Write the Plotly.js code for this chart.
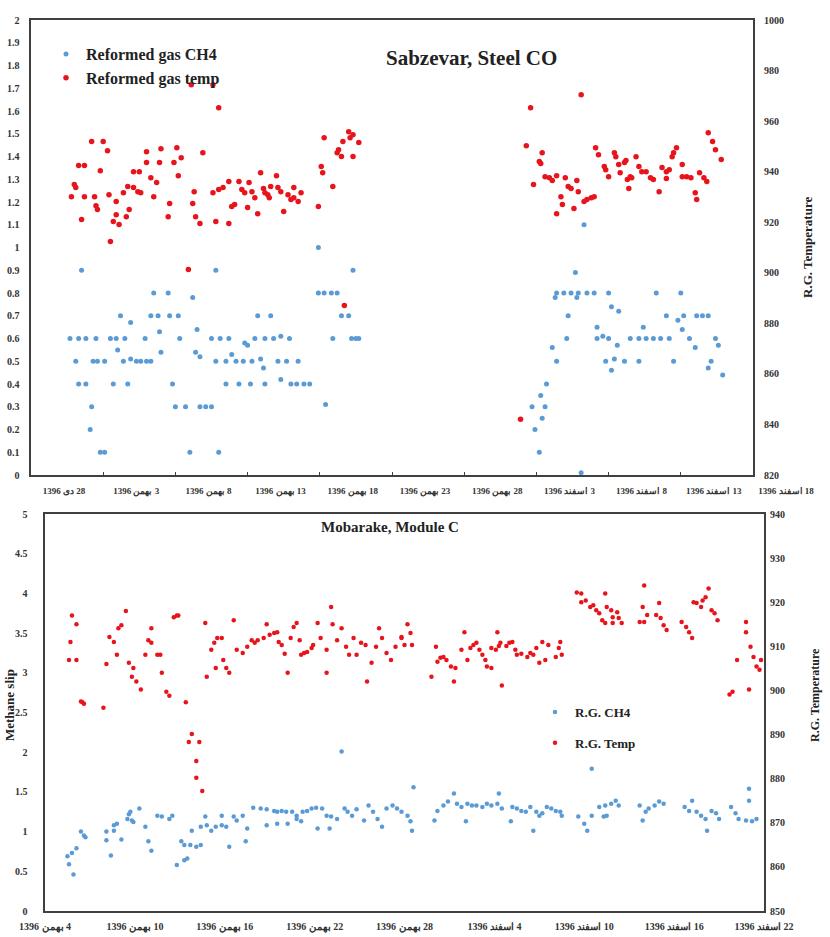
<!DOCTYPE html>
<html><head><meta charset="utf-8">
<script src="https://cdn.plot.ly/plotly-3.0.1.min.js"></script>
<style>html,body{margin:0;padding:0;background:#fff;}#chart{width:830px;height:937px;}</style>
</head><body><div id="chart"></div>
<script>
// ---------- DATA ----------
// Top chart: x = days since 28 Dey 1396
const topTickDays = [0,5,10,15,20,25,30,35,40,45,50];
const topTickLabels = ["28 دی 1396","3 بهمن 1396","8 بهمن 1396","13 بهمن 1396","18 بهمن 1396","23 بهمن 1396","28 بهمن 1396","3 اسفند 1396","8 اسفند 1396","13 اسفند 1396","18 اسفند 1396"];
// [day, CH4]
const topCh4 = [
[3.5,0.90],[2.7,0.60],[3.3,0.60],[3.8,0.60],[4.5,0.60],[5.5,0.60],[5.9,0.60],[6.5,0.60],[7.9,0.60],[10.3,0.60],[12.5,0.60],[13.1,0.60],[13.7,0.60],[14.8,0.58],[15.0,0.57],[15.5,0.60],[16.2,0.60],[16.8,0.60],[17.3,0.61],[17.9,0.60],[20.9,0.60],[22.2,0.60],[22.5,0.60],[22.7,0.60],
[3.1,0.50],[4.3,0.50],[4.6,0.50],[5.1,0.50],[6.4,0.50],[6.9,0.51],[7.3,0.50],[7.6,0.50],[8.0,0.50],[8.3,0.50],[12.8,0.50],[13.5,0.50],[14.2,0.50],[14.7,0.50],[15.3,0.50],[15.9,0.51],[17.1,0.50],[17.7,0.50],[18.5,0.50],
[3.3,0.40],[3.8,0.40],[5.7,0.40],[6.7,0.40],[9.8,0.40],[13.5,0.40],[14.4,0.40],[15.2,0.40],[16.2,0.40],[17.3,0.42],[18.0,0.40],[18.4,0.40],[18.9,0.40],[19.3,0.40],
[4.2,0.30],[10.0,0.30],[10.7,0.30],[11.7,0.30],[12.1,0.30],[12.5,0.30],[20.4,0.31],[4.1,0.20],
[4.8,0.10],[5.1,0.10],[11.0,0.10],[13.0,0.10],
[8.5,0.80],[9.5,0.80],[19.9,0.80],[20.3,0.80],[20.8,0.80],[21.2,0.80],
[6.2,0.70],[8.3,0.70],[8.8,0.70],[9.6,0.70],[10.2,0.70],[15.7,0.70],[16.6,0.70],[21.5,0.70],[22.0,0.70],
[6.9,0.67],[8.9,0.63],[6.0,0.55],[9.0,0.54],[11.4,0.54],[11.7,0.52],[11.5,0.64],[11.2,0.78],[12.8,0.90],[22.3,0.90],[19.9,1.00],[16.1,0.47],[13.9,0.53],
[37.7,0.89],[36.4,0.80],[36.9,0.80],[37.4,0.80],[37.9,0.80],[38.5,0.80],[39.0,0.80],[40.0,0.80],[43.3,0.80],[45.0,0.80],
[36.3,0.78],[37.8,0.78],[37.2,0.70],[40.2,0.74],[40.7,0.72],
[44.0,0.70],[44.8,0.68],[45.2,0.70],[46.1,0.70],[46.5,0.70],[46.9,0.70],
[39.2,0.65],[42.4,0.65],[45.1,0.64],
[37.1,0.60],[39.2,0.60],[39.6,0.61],[40.0,0.60],[41.5,0.60],[42.1,0.60],[42.6,0.60],[43.1,0.60],[43.6,0.60],[44.2,0.60],[45.6,0.60],[47.4,0.60],
[40.6,0.57],[46.0,0.56],[47.6,0.57],[36.1,0.56],
[36.4,0.50],[39.8,0.50],[40.4,0.51],[41.1,0.50],[42.1,0.50],[44.5,0.50],[47.1,0.50],
[40.2,0.46],[46.9,0.47],[47.9,0.44],
[35.7,0.40],[35.3,0.35],[34.7,0.30],[35.6,0.30],[35.4,0.25],[34.9,0.20],[35.2,0.10],[38.1,0.01],[38.3,1.10]
];
// [day, temperature]
const topTemp = [
[11.1,974.4],[12.6,974.4],[13.0,965.3],
[4.2,951.9],[5.0,951.9],[5.3,948.3],[3.3,942.4],[3.7,942.4],[4.8,940.4],[3.0,934.9],[3.1,933.7],[2.8,930.1],[3.7,930.1],[4.4,930.1],[5.4,930.9],[5.9,928.2],[4.5,926.5],[4.6,925.0],[3.5,921.1],[5.7,920.3],[6.1,919.1],[5.9,923.0],[6.6,922.2],[5.5,912.4],[6.8,925.0],[6.4,931.7],[6.7,934.1],[7.1,933.7],[7.4,932.1],[7.6,931.7],[7.1,940.0],[7.5,940.0],[8.0,943.6],[8.0,947.9],[8.3,937.6],[8.7,935.7],[9.0,949.1],[8.9,943.6],[8.5,930.1],[10.1,949.5],[9.9,943.6],[10.4,945.5],[10.2,938.4],[9.6,927.4],[9.5,922.2],[11.3,932.1],[11.2,927.4],[11.4,922.2],[11.7,919.5],[11.9,947.5],[10.9,901.3],[12.8,920.3],[13.7,919.5],[12.6,931.7],[13.0,932.9],[13.3,933.7],[13.7,936.1],[13.9,926.2],[14.1,927.0],[14.4,936.1],[14.6,932.9],[14.8,931.7],[15.1,935.7],[15.3,932.1],[15.5,929.7],[15.0,925.8],[15.7,923.4],[15.9,939.6],[16.1,933.3],[16.2,931.7],[16.4,930.9],[16.5,929.7],[16.6,934.1],[17.0,938.4],[17.1,933.7],[17.3,932.1],[17.5,924.2],[17.8,930.9],[18.0,929.0],[18.2,929.7],[18.5,928.2],[18.7,931.7],[18.2,933.7],[19.9,926.2],[20.1,942.0],[20.2,939.6],[20.3,953.4],[20.9,934.1],[21.2,947.5],[21.3,948.7],[21.5,946.0],[21.6,951.9],[22.0,955.8],[22.1,953.4],[22.3,954.6],[22.3,946.0],[22.7,951.5],[21.7,887.1],
[33.9,842.1],[34.6,965.3],[38.1,970.4],[34.3,950.3],[35.4,947.5],[35.2,944.0],[35.3,943.2],[34.8,934.9],[35.6,938.0],[35.9,937.6],[36.1,936.5],[36.4,938.4],[37.0,937.6],[37.2,934.1],[37.4,933.3],[37.8,936.5],[37.9,932.1],[36.7,930.1],[36.8,927.0],[36.4,923.4],[37.6,925.4],[38.3,928.2],[38.5,929.0],[38.8,929.7],[39.0,930.1],[39.1,949.5],[39.3,946.7],[39.7,942.0],[39.8,940.8],[40.0,938.0],[40.4,947.5],[40.5,945.9],[40.7,942.8],[40.8,939.6],[41.1,943.6],[41.2,944.4],[41.3,936.9],[41.5,938.0],[41.6,937.6],[41.4,933.3],[41.9,945.9],[42.1,942.0],[42.3,940.0],[42.6,940.0],[42.9,937.6],[43.1,936.9],[43.5,932.1],[43.7,941.6],[44.0,940.0],[44.2,940.8],[44.0,937.3],[44.4,945.9],[44.5,947.5],[44.7,949.5],[45.1,942.8],[45.1,938.0],[45.4,938.0],[45.7,937.6],[46.0,931.7],[46.1,929.0],[46.3,939.6],[46.6,937.6],[46.8,936.1],[46.9,955.4],[47.2,951.9],[47.4,948.7],[47.8,944.8]
];

// Bottom chart: x = days since 4 Bahman 1396
const botTickDays = [0,6,12,18,24,30,36,42,48];
const botTickLabels = ["4 بهمن 1396","10 بهمن 1396","16 بهمن 1396","22 بهمن 1396","28 بهمن 1396","4 اسفند 1396","10 اسفند 1396","16 اسفند 1396","22 اسفند 1396"];
// [day, CH4 (methane slip)]
const botCh4 = [
[1.5,0.69],[1.6,0.59],[1.8,0.73],[2.1,0.79],[1.9,0.46],[2.4,1.00],[2.6,0.95],[2.7,0.93],
[4.1,1.00],[4.1,0.89],[4.4,0.70],[4.6,1.01],[4.6,1.08],[4.8,1.10],[5.1,0.90],
[5.5,1.16],[5.6,1.22],[5.7,1.25],[5.8,1.14],[5.9,1.12],[6.3,1.29],
[6.7,1.06],[6.9,0.88],[7.1,0.76],
[7.5,1.20],[7.8,1.19],[8.3,1.16],[8.5,1.20],
[9.1,0.88],[9.3,0.83],[8.8,0.58],[9.3,0.64],[9.5,0.66],
[9.7,0.83],[10.1,0.81],[10.4,0.83],
[9.8,1.01],[10.4,1.06],[10.8,1.08],[11.1,1.01],[11.4,1.06],[11.8,1.08],[12.1,1.06],
[10.7,1.19],[11.8,1.20],[12.6,1.19],[12.8,1.14],
[12.3,0.81],[13.4,0.88],[13.5,1.04],[13.2,1.20],
[13.9,1.30],[14.4,1.29],[14.8,1.28],[15.3,1.26],[15.5,1.25],[15.8,1.26],[16.1,1.25],[16.5,1.25],[16.8,1.20],[17.2,1.25],[17.5,1.26],[17.8,1.29],[18.1,1.30],
[14.8,1.08],[15.5,1.10],[16.2,1.10],[16.8,1.16],[17.1,1.13],
[18.2,1.04],[19.0,1.04],
[18.5,1.29],[18.8,1.20],[19.1,1.19],[19.5,1.16],[20.0,1.29],[20.2,1.25],[20.5,1.20],[20.8,1.28],[21.3,1.14],[21.6,1.33],[21.9,1.25],[22.2,1.16],[22.5,1.06],[22.8,1.29],[23.2,1.33],[23.5,1.29],[23.8,1.25],[24.2,1.20],[24.4,1.13],[24.5,1.01],
[19.8,2.01],[24.6,1.56],
[26.0,1.14],[26.2,1.26],[26.6,1.33],[26.9,1.38],[27.3,1.48],[27.5,1.35],[27.8,1.31],[28.1,1.13],[28.2,1.35],[28.5,1.33],[28.8,1.33],[29.2,1.31],[29.5,1.35],[29.8,1.33],[30.2,1.35],[30.3,1.48],[30.5,1.29],[31.1,1.13],[31.2,1.31],[31.5,1.29],[31.8,1.26],[32.1,1.25],[32.4,1.31],[32.6,1.01],[32.8,1.25],[33.0,1.20],[33.2,1.23],[33.5,1.31],[33.8,1.29],[34.1,1.26],[34.4,1.25],[34.5,1.20],
[35.6,1.19],[36.0,1.10],[36.2,1.01],[36.5,1.20],[37.0,1.31],[37.4,1.33],[37.8,1.35],[38.1,1.39],[38.3,1.33],[37.5,1.20],[37.3,1.19],[36.5,1.79],
[39.7,1.33],[39.9,1.14],[40.1,1.25],[40.3,1.29],[40.7,1.33],[41.0,1.38],[41.3,1.35],
[42.7,1.31],[43.0,1.26],[43.2,1.39],[43.5,1.25],[43.8,1.20],[44.1,1.16],[44.2,1.01],[44.5,1.26],[44.8,1.23],[45.0,1.16],
[45.8,1.31],[46.1,1.23],[46.3,1.16],[46.8,1.14],[47.0,1.54],[47.0,1.39],[47.2,1.13],[47.5,1.16]
];
// [day, temperature]
const botTemp = [
[1.8,917.0],[2.1,915.0],[1.7,911.0],[1.6,906.9],[2.1,906.9],[2.4,897.5],[2.5,897.3],[2.6,897.0],[3.9,896.1],
[5.4,918.0],[5.1,914.8],[4.9,914.1],[4.3,912.1],[4.6,911.0],[4.8,908.1],[4.1,906.0],
[5.6,906.3],[5.9,905.1],[5.8,903.1],[6.1,902.0],[6.4,900.2],
[7.1,914.1],[6.9,911.4],[7.1,910.8],[6.7,908.1],[7.5,908.1],[7.7,908.1],[7.8,904.0],[8.1,899.7],[8.3,898.8],
[8.6,916.6],[8.8,917.0],[8.9,917.0],[9.4,897.3],
[9.8,890.1],[9.6,888.3],[10.3,888.3],[10.1,884.0],[10.1,880.2],[10.5,877.2],
[10.7,915.3],[11.1,909.2],[11.3,910.8],[11.5,911.9],[11.8,911.9],[10.8,903.1],[11.4,905.1],[11.9,906.9],[12.1,905.1],[12.3,904.0],
[12.6,915.9],[12.8,909.2],[13.2,908.5],[13.5,909.9],[13.8,911.4],[14.0,910.8],[14.2,911.4],[14.6,911.9],[15.0,912.6],[15.3,913.0],[15.5,913.2],[15.6,911.0],[15.8,910.3],
[14.8,915.0],[16.0,908.3],[16.2,904.0],
[16.4,911.9],[16.6,914.4],[16.8,915.3],[17.0,911.4],[17.1,908.1],[17.3,908.5],[17.5,908.7],[17.8,909.6],[17.9,910.3],
[18.2,915.3],[18.4,911.9],[18.8,909.2],[18.8,904.0],
[19.1,918.9],[19.2,915.0],[19.5,911.4],[19.8,914.1],[20.1,909.9],[20.3,908.1],[20.6,911.9],[20.8,908.1],[21.1,910.8],[21.4,910.3],[21.5,902.0],[21.8,906.3],[22.1,909.9],
[22.3,914.1],[22.5,911.9],[22.8,908.5],[23.1,906.9],[23.4,909.9],[23.8,911.9],[24.2,915.0],[24.4,913.0],[24.5,910.3],[24.0,910.3],[23.8,912.1],
[25.8,903.1],[26.1,909.9],[26.2,906.5],[26.4,907.4],[26.6,907.6],[26.8,906.9],[27.1,905.4],[27.3,902.0],[27.4,905.1],[27.8,909.2],[28.0,913.2],[28.2,906.9],[28.4,909.6],[28.6,910.3],[28.8,910.8],[29.0,909.2],[29.2,908.1],[29.4,906.9],[29.5,905.4],[29.8,905.1],[29.8,909.6],[30.1,909.2],[30.2,913.2],[30.3,910.1],[30.4,910.8],[30.5,901.1],[30.8,910.1],[31.0,910.8],[31.2,911.0],[31.4,909.2],[31.5,908.1],[31.8,908.3],[32.2,907.6],[32.4,908.5],[32.6,908.1],[32.8,909.6],[33.0,906.3],[33.2,911.0],[33.4,906.9],[33.6,910.3],[34.1,907.6],[34.3,909.6],[34.4,911.0],[34.5,908.1],
[35.5,922.2],[35.8,922.0],[35.8,920.0],[36.1,920.4],[36.4,918.9],[36.6,919.3],[36.8,918.2],[37.0,917.5],[37.4,922.0],[37.5,918.9],[37.8,918.2],[37.9,916.6],[38.2,917.7],[38.3,916.4],[37.2,915.9],[37.4,915.3],[37.9,915.3],[38.5,915.3],
[40.0,923.8],[39.9,918.9],[40.0,915.5],[39.7,915.5],[40.2,917.1],
[41.0,919.8],[40.8,917.1],[41.1,916.4],[41.3,914.8],[41.5,913.7],
[42.5,915.5],[42.8,914.4],[43.0,913.2],[43.2,911.9],
[43.3,920.0],[43.5,919.8],[43.8,918.9],[43.9,920.4],[44.1,921.1],[44.3,923.1],[44.5,918.2],[44.7,917.5],[44.9,915.9],
[46.8,915.5],[46.8,913.2],[47.1,909.9],[47.3,907.6],[47.5,905.4],[47.7,904.7],[47.8,906.9],[46.2,906.9],[45.9,899.7],[45.7,899.1],[47.0,900.2]
];

// ---------- CHART ----------
const W = 830, H = 937;
const FONT = "'Liberation Serif','Times New Roman','DejaVu Serif',serif";
const BLUE = '#5b9bd5', RED = '#e8141c', LINE = '#404040';
const rtl = s => '\u202B' + s + '\u202C';
const px = v => v / W, py = v => 1 - v / H;
const xs = a => a.map(p => p[0]), ys = a => a.map(p => p[1]);
const tickFont = {family: FONT, size: 10, color: '#333', weight: 'bold'};

const traces = [
  {type:'scatter', mode:'markers', name:'Reformed gas CH4', x:xs(topCh4), y:ys(topCh4), xaxis:'x', yaxis:'y',
   marker:{color:BLUE, size:5}, legend:'legend'},
  {type:'scatter', mode:'markers', name:'Reformed gas temp', x:xs(topTemp), y:ys(topTemp), xaxis:'x', yaxis:'y2',
   marker:{color:RED, size:5.5}, legend:'legend'},
  {type:'scatter', mode:'markers', name:'R.G. CH4', x:xs(botCh4), y:ys(botCh4), xaxis:'x2', yaxis:'y3',
   marker:{color:BLUE, size:4.5}, legend:'legend2', legendgroup:'a'},
  {type:'scatter', mode:'markers', name:'R.G. Temp', x:xs(botTemp), y:ys(botTemp), xaxis:'x2', yaxis:'y4',
   marker:{color:RED, size:4.5}, legend:'legend2', legendgroup:'b'}
];

const common = {showgrid:false, zeroline:false, tickfont:tickFont, automargin:false, fixedrange:true};

const layout = {
  width: W, height: H,
  margin: {l:0, r:0, t:0, b:0, pad:0},
  paper_bgcolor:'#fff', plot_bgcolor:'#fff',
  font: {family: FONT, color:'#222'},
  showlegend: true,
  xaxis: Object.assign({}, common, {
    domain:[px(31), px(753)], anchor:'y', range:[0,50],
    tickmode:'array', tickvals: topTickDays, ticktext: topTickLabels.map(rtl), tickangle:0,
    ticks:'inside', ticklen:3, tickcolor:LINE, ticklabelshift:33, ticklabelstandoff:7,
    tickfont:{family:FONT, size:9, color:'#333', weight:'bold'},
    showline:true, mirror:true, linecolor:LINE, linewidth:1.6
  }),
  yaxis: Object.assign({}, common, {
    domain:[1-475/H, 1-20/H], anchor:'x', range:[0,2], tick0:0, dtick:0.1,
    ticks:'', ticklabelstandoff:8, showline:true, mirror:true, linecolor:LINE, linewidth:1.6
  }),
  yaxis2: Object.assign({}, common, {
    overlaying:'y', side:'right', anchor:'x', range:[820,1000], tick0:820, dtick:20,
    ticks:'', ticklabelstandoff:10, showline:false
  }),
  xaxis2: Object.assign({}, common, {
    domain:[px(45), px(764)], anchor:'y3', range:[0,48],
    tickmode:'array', tickvals: botTickDays, ticktext: botTickLabels.map(rtl), tickangle:0,
    ticks:'', ticklabelstandoff:5,
    tickfont:{family:FONT, size:10, color:'#333', weight:'bold'},
    showline:true, mirror:true, linecolor:LINE, linewidth:1.6
  }),
  yaxis3: Object.assign({}, common, {
    domain:[1-911/H, 1-514/H], anchor:'x2', range:[0,5], tick0:0, dtick:0.5,
    ticks:'', ticklabelstandoff:14, showline:true, mirror:true, linecolor:LINE, linewidth:1.6
  }),
  yaxis4: Object.assign({}, common, {
    overlaying:'y3', side:'right', anchor:'x2', range:[850,940], tick0:850, dtick:10,
    ticks:'', ticklabelstandoff:5, showline:false
  }),
  legend: {x:px(46), y:py(37), xanchor:'left', yanchor:'top', bgcolor:'rgba(0,0,0,0)',
    font:{family:FONT, size:16, color:'#222', weight:'bold'}, itemwidth:30},
  legend2: {x:px(535), y:py(697), xanchor:'left', yanchor:'top', bgcolor:'rgba(0,0,0,0)',
    font:{family:FONT, size:13, color:'#222', weight:'bold'}, itemwidth:30,
    traceorder:'grouped', tracegroupgap:11},
  annotations: [
    {text:'<b>Sabzevar, Steel CO</b>', xref:'paper', yref:'paper', x:px(471), y:py(58),
     xanchor:'center', yanchor:'middle', showarrow:false, font:{family:FONT, size:21, color:'#222'}},
    {text:'<b>Mobarake, Module C</b>', xref:'paper', yref:'paper', x:px(390), y:py(527),
     xanchor:'center', yanchor:'middle', showarrow:false, font:{family:FONT, size:15, color:'#222'}},
    {text:'<b>R.G. Temperature</b>', xref:'paper', yref:'paper', x:px(807), y:py(248),
     xanchor:'center', yanchor:'middle', textangle:-90, showarrow:false, font:{family:FONT, size:13, color:'#222'}},
    {text:'<b>R.G. Temperature</b>', xref:'paper', yref:'paper', x:px(815), y:py(695),
     xanchor:'center', yanchor:'middle', textangle:-90, showarrow:false, font:{family:FONT, size:12, color:'#222'}},
    {text:'<b>Methane slip</b>', xref:'paper', yref:'paper', x:px(9), y:py(705),
     xanchor:'center', yanchor:'middle', textangle:-90, showarrow:false, font:{family:FONT, size:13, color:'#222'}}
  ]
};

Plotly.newPlot('chart', traces, layout, {staticPlot:true, displayModeBar:false});
</script></body></html>
